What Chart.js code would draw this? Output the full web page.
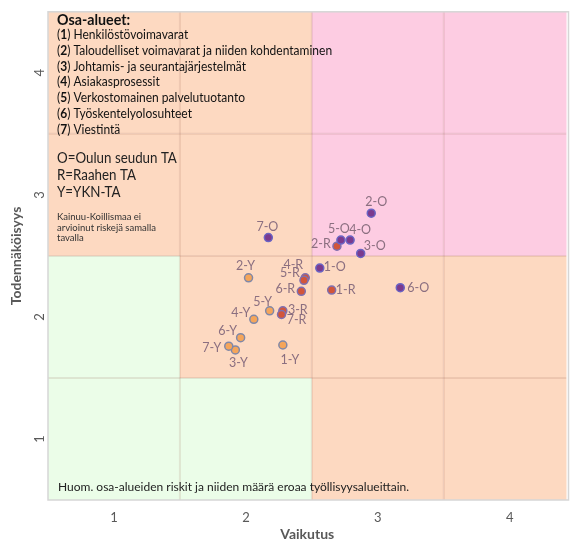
<!DOCTYPE html>
<html>
<head>
<meta charset="utf-8">
<script src="https://cdn.jsdelivr.net/npm/chart.js@4"></script>
<style>
  html, body { margin: 0; padding: 0; background: #fff; }
  canvas { display: block; }
</style>
</head>
<body>
<canvas id="riskChart" width="572" height="545"></canvas>
<script>
// data
const xTicks = [1, 2, 3, 4];
const yTicks = [1, 2, 3, 4];

const oNames  = ['1-O', '2-O', '3-O', '4-O', '5-O', '6-O', '7-O'];
const oImpact = [2.56, 2.95, 2.87, 2.79, 2.72, 3.17, 2.17];
const oProb   = [2.40, 2.85, 2.52, 2.63, 2.63, 2.24, 2.65];

const rNames  = ['1-R', '2-R', '3-R', '4-R', '5-R', '6-R', '7-R'];
const rImpact = [2.65, 2.69, 2.28, 2.45, 2.44, 2.42, 2.27];
const rProb   = [2.22, 2.58, 2.05, 2.32, 2.30, 2.21, 2.02];

const yNames  = ['1-Y', '2-Y', '3-Y', '4-Y', '5-Y', '6-Y', '7-Y'];
const yImpact = [2.28, 2.02, 1.92, 2.06, 2.18, 1.96, 1.87];
const yProb   = [1.77, 2.32, 1.73, 1.98, 2.05, 1.83, 1.76];

const areaNames = [
  'Henkilöstövoimavarat',
  'Taloudelliset voimavarat ja niiden kohdentaminen',
  'Johtamis- ja seurantajärjestelmät',
  'Asiakasprosessit',
  'Verkostomainen palvelutuotanto',
  'Työskentelyolosuhteet',
  'Viestintä'
];
const regionKey = ['O=Oulun seudun TA', 'R=Raahen TA', 'Y=YKN-TA'];
const sideNote = ['Kainuu-Koillismaa ei', 'arvioinut riskejä samalla', 'tavalla'];
const footNote = 'Huom. osa-alueiden riskit ja niiden määrä eroaa työllisyysalueittain.';

// zone colours, rows from probability 4 down to 1, columns impact 1..4
const PEACH = '#fdd9c1', PINK = '#fdcce2', GREEN = '#ebfde8';
const zones = [
  [PEACH, PEACH, PINK, PINK],
  [PEACH, PEACH, PINK, PINK],
  [GREEN, PEACH, PEACH, PEACH],
  [GREEN, GREEN, PEACH, PEACH]
];

// where each point label sits relative to its point (px)
const labelOffsets = {
  '2-O': [5, -11], '7-O': [-1, -11], '5-O': [-2, -11], '4-O': [10, -10],
  '3-O': [14, -7], '1-O': [15, -1], '6-O': [18, 0],
  '2-R': [-16, -2], '4-R': [-12, -13], '5-R': [-14, -7], '6-R': [-16, -2],
  '1-R': [14, 0], '3-R': [15, -1], '7-R': [15, 5],
  '2-Y': [-3, -12], '5-Y': [-7, -9], '4-Y': [-13, -6], '6-Y': [-13, -7],
  '7-Y': [-17, 2], '3-Y': [3, 13], '1-Y': [7, 15]
};

const FONT = 'Lato';
const AXIS_COLOR = '#595959';

function toPoints(xs, ys, names) {
  return xs.map((x, i) => ({ x, y: ys[i], name: names[i] }));
}

// draw runs of [text, font] squeezed horizontally by sx
function drawRuns(ctx, runs, x, y, sx) {
  ctx.save();
  ctx.translate(x, y);
  ctx.scale(sx, 1);
  let xx = 0;
  runs.forEach(([t, f]) => {
    ctx.font = f;
    ctx.fillText(t, xx, 0);
    xx += ctx.measureText(t).width;
  });
  ctx.restore();
}

const zonesPlugin = {
  id: 'zones',
  beforeDatasetsDraw(chart) {
    const { ctx, chartArea: a, scales: { x, y } } = chart;
    ctx.save();
    ctx.beginPath();
    ctx.rect(a.left, a.top, a.right - a.left, a.bottom - a.top);
    ctx.clip();
    zones.forEach((row, r) => {
      const py = 4 - r;
      row.forEach((col, c) => {
        const px = c + 1;
        const x0 = x.getPixelForValue(px - 0.5), x1 = x.getPixelForValue(px + 0.5);
        const y0 = y.getPixelForValue(py + 0.5), y1 = y.getPixelForValue(py - 0.5);
        ctx.fillStyle = col;
        ctx.fillRect(x0, y0, x1 - x0, y1 - y0);
      });
    });
    ctx.strokeStyle = 'rgba(120,60,40,0.12)';
    ctx.lineWidth = 2;
    [1.5, 2.5, 3.5].forEach(v => {
      const px = x.getPixelForValue(v);
      ctx.beginPath(); ctx.moveTo(px, a.top); ctx.lineTo(px, a.bottom); ctx.stroke();
      const py = y.getPixelForValue(v);
      ctx.beginPath(); ctx.moveTo(a.left, py); ctx.lineTo(a.right, py); ctx.stroke();
    });
    ctx.restore();
    ctx.save();
    ctx.strokeStyle = '#d6d6d6';
    ctx.lineWidth = 1.5;
    ctx.strokeRect(a.left, a.top, a.right - a.left + 2, a.bottom - a.top);
    ctx.restore();
  }
};

const pointLabels = {
  id: 'pointLabels',
  afterDatasetsDraw(chart) {
    const { ctx } = chart;
    ctx.save();
    ctx.font = `12.5px ${FONT}`;
    ctx.fillStyle = '#8b6f80';
    ctx.textAlign = 'center';
    ctx.textBaseline = 'middle';
    chart.data.datasets.forEach((ds, i) => {
      chart.getDatasetMeta(i).data.forEach((el, j) => {
        const name = ds.data[j].name;
        const [dx, dy] = labelOffsets[name] || [0, -11];
        ctx.fillText(name, el.x + dx, el.y + dy);
      });
    });
    ctx.restore();
  }
};

const notes = {
  id: 'notes',
  afterDraw(chart) {
    const { ctx } = chart;
    ctx.save();
    ctx.textBaseline = 'middle';
    ctx.textAlign = 'left';
    ctx.fillStyle = '#111';
    const left = 57;

    drawRuns(ctx, [['Osa-alueet:', `bold 15px ${FONT}`]], left, 20, 0.95);

    areaNames.forEach((name, i) => {
      const yy = 35 + i * 15.7;
      drawRuns(ctx, [
        ['(', `13.5px ${FONT}`],
        [String(i + 1), `bold 13.5px ${FONT}`],
        [') ' + name, `13.5px ${FONT}`],
      ], left, yy, 0.89);
    });

    ctx.fillStyle = '#222';
    regionKey.forEach((t, i) => drawRuns(ctx, [[t, `14.5px ${FONT}`]], left, 158 + i * 17, 0.92));

    ctx.fillStyle = '#333';
    ctx.font = `9.5px ${FONT}`;
    sideNote.forEach((t, i) => ctx.fillText(t, left, 217 + i * 10.5));

    ctx.fillStyle = '#222';
    ctx.font = `12px ${FONT}`;
    ctx.fillText(footNote, left + 1, 487);
    ctx.restore();
  }
};

const ctx = document.getElementById('riskChart').getContext('2d');
new Chart(ctx, {
  type: 'scatter',
  data: {
    datasets: [
      {
        label: 'O',
        data: toPoints(oImpact, oProb, oNames),
        backgroundColor: '#7b3a8e',
        borderColor: '#6a64c4',
        borderWidth: 1.5,
        pointRadius: 4,
      },
      {
        label: 'R',
        data: toPoints(rImpact, rProb, rNames),
        backgroundColor: '#d2553a',
        borderColor: '#7f70b0',
        borderWidth: 1.5,
        pointRadius: 4,
      },
      {
        label: 'Y',
        data: toPoints(yImpact, yProb, yNames),
        backgroundColor: '#f5a55a',
        borderColor: '#8088a8',
        borderWidth: 1.5,
        pointRadius: 4,
      },
    ],
  },
  options: {
    responsive: false,
    animation: false,
    layout: { padding: { top: 5, right: 0, bottom: 0, left: 0 } },
    plugins: {
      legend: { display: false },
      tooltip: { enabled: false },
    },
    scales: {
      x: {
        type: 'linear',
        min: 0.5,
        max: 4.43,
        afterBuildTicks: s => { s.ticks = xTicks.map(v => ({ value: v })); },
        afterFit: s => { s.height = 45; },
        grid: { display: false, drawTicks: false },
        border: { display: false },
        ticks: { color: AXIS_COLOR, font: { family: FONT, size: 13 }, padding: 10 },
        title: {
          display: true, text: 'Vaikutus', color: AXIS_COLOR,
          font: { family: FONT, size: 14, weight: 'bold' }, padding: { top: 0, bottom: 2 },
        },
      },
      y: {
        type: 'linear',
        min: 0.5,
        max: 4.5,
        afterBuildTicks: s => { s.ticks = yTicks.map(v => ({ value: v })); },
        afterFit: s => { s.width = 48; },
        grid: { display: false, drawTicks: false },
        border: { display: false },
        ticks: {
          color: AXIS_COLOR, font: { family: FONT, size: 13 }, padding: 4,
          minRotation: 90, maxRotation: 90, crossAlign: 'center',
        },
        title: {
          display: true, text: 'Todennäköisyys', color: AXIS_COLOR,
          font: { family: FONT, size: 14, weight: 'bold' }, padding: { top: 8, bottom: 0 },
        },
      },
    },
  },
  plugins: [zonesPlugin, pointLabels, notes],
});
</script>
</body>
</html>
